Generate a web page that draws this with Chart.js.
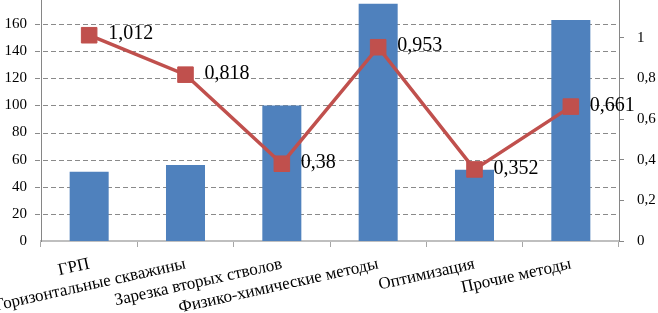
<!DOCTYPE html>
<html><head><meta charset="utf-8">
<script src="https://cdn.jsdelivr.net/npm/chart.js@4/dist/chart.umd.min.js"></script>
<style>
html,body{margin:0;padding:0;background:#fff;overflow:hidden;width:658px;height:313px;}
#wrap{position:absolute;left:0;top:-15px;width:658px;height:328px;}
</style></head>
<body><div id="wrap"><canvas id="c" width="658" height="328"></canvas></div>
<script>
const categories = ['ГРП','Горизонтальные скважины','Зарезка вторых стволов','Физико-химические методы','Оптимизация','Прочие методы'];
const barValues = [51, 56, 100, 175, 52.5, 163];
const lineValues = [1.012, 0.818, 0.38, 0.953, 0.352, 0.661];
const lineLabels = ['1,012','0,818','0,38','0,953','0,352','0,661'];
const leftTicks = ['0','20','40','60','80','100','120','140','160',''];
const rightTicks = ['0','0,2','0,4','0,6','0,8','1',''];

const serif = '"Liberation Serif","Times New Roman",serif';

const dashedGrid = {
  id: 'dashedGrid',
  beforeDatasetsDraw(chart) {
    const s = chart.scales.y, a = chart.chartArea, ctx = chart.ctx;
    ctx.save();
    ctx.strokeStyle = '#8A8A8A';
    ctx.lineWidth = 1;
    ctx.setLineDash([5, 3]);
    s.ticks.forEach(t => {
      if (t.value === 0) return;
      const y = Math.round(s.getPixelForValue(t.value)) + 0.5;
      ctx.beginPath();
      ctx.moveTo(a.left - 6, y);
      ctx.lineTo(a.right, y);
      ctx.stroke();
    });
    ctx.restore();
  }
};

const labelPlugin = {
  id: 'pointLabels',
  afterDatasetsDraw(chart) {
    const meta = chart.getDatasetMeta(0);
    const ctx = chart.ctx;
    ctx.save();
    ctx.font = '20px ' + serif;
    ctx.fillStyle = '#000';
    ctx.textAlign = 'left';
    ctx.textBaseline = 'middle';
    meta.data.forEach((pt, i) => {
      ctx.fillText(lineLabels[i], pt.x + 19, pt.y - 1);
    });
    ctx.restore();
  }
};

new Chart(document.getElementById('c'), {
  type: 'bar',
  data: {
    labels: categories,
    datasets: [
      {
        type: 'line', data: lineValues, yAxisID: 'y1', order: 0,
        borderColor: '#C0504D', borderWidth: 3.5, backgroundColor: '#C0504D',
        pointStyle: 'rect', pointRadius: 11, pointBackgroundColor: '#C0504D',
        pointBorderColor: '#C0504D', pointBorderWidth: 1, tension: 0
      },
      {
        type: 'bar', data: barValues, yAxisID: 'y', order: 1,
        backgroundColor: '#4F81BD', categoryPercentage: 1, barPercentage: 0.405
      }
    ]
  },
  options: {
    responsive: false, animation: false, devicePixelRatio: 1,
    layout: { padding: 0 },
    plugins: { legend: { display: false }, tooltip: { enabled: false } },
    scales: {
      x: {
        offset: true,
        grid: { offset: true, drawOnChartArea: false, drawTicks: true, tickLength: 6, color: '#A6A6A6', lineWidth: 1 },
        border: { color: '#BFBFBF', width: 2 },
        ticks: { font: { family: serif, size: 17 }, color: '#000', minRotation: 12.5, maxRotation: 12.5, autoSkip: false, padding: 7 },
        afterFit(s) { s.height = 72; s.paddingLeft = 0; s.paddingRight = 0; }
      },
      y: {
        position: 'left', min: 0, max: 180,
        ticks: { stepSize: 20, font: { family: serif, size: 15 }, color: '#000', padding: 14,
          callback: (v, i) => leftTicks[i] },
        grid: { display: false, drawTicks: false, tickLength: 0 },
        border: { display: true, color: '#868686', width: 1 },
        afterFit(s) { s.width = 41; s.paddingTop = 0; s.paddingBottom = 0; }
      },
      y1: {
        position: 'right', min: 0, max: 1.2,
        ticks: { stepSize: 0.2, font: { family: serif, size: 15 }, color: '#000', padding: 13,
          callback: (v, i) => rightTicks[i] },
        grid: { drawOnChartArea: false, color: '#868686', tickLength: 5 },
        border: { color: '#868686', width: 1 },
        afterFit(s) { s.width = 39; s.paddingTop = 0; s.paddingBottom = 0; }
      }
    }
  },
  plugins: [dashedGrid, labelPlugin]
});
</script>
</body></html>
